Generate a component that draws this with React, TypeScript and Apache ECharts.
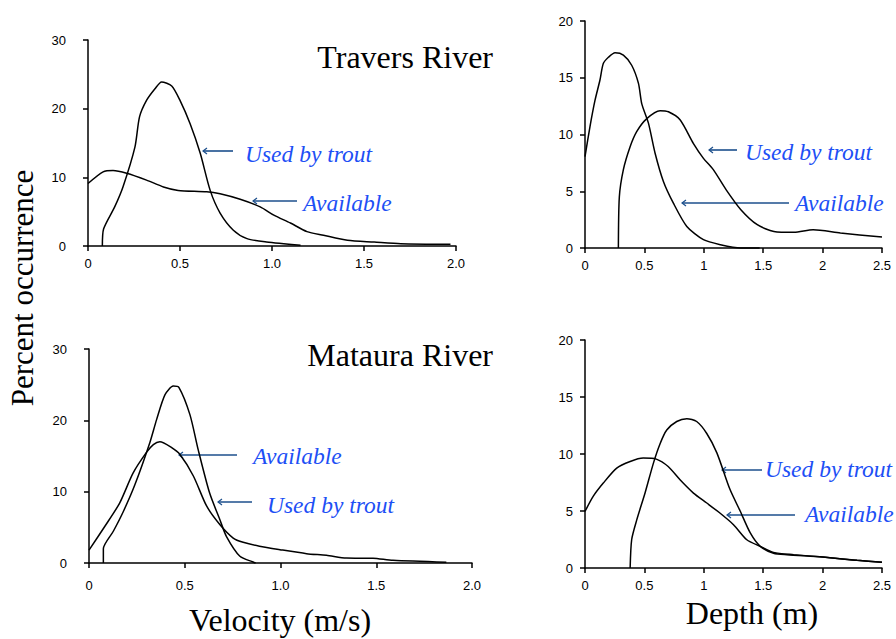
import React, { useEffect, useRef } from "react";
import * as echarts from "echarts";

// ---- Data ----
const velTickLabels = ["0", "0.5", "1.0", "1.5", "2.0"];
const depthTickLabels = ["0", "0.5", "1", "1.5", "2", "2.5"];

// Travers River - velocity
const travVelUsedX = [0.078, 0.085, 0.145, 0.19, 0.255, 0.28, 0.318, 0.364, 0.4, 0.455, 0.5, 0.555, 0.61, 0.664, 0.718, 0.79, 0.864, 0.97, 1.155];
const travVelUsedY = [0, 2.5, 5.7, 8.6, 14.4, 18.8, 21.2, 22.9, 23.9, 23.3, 21.2, 17.8, 13.5, 8.1, 4.8, 2.3, 1.07, 0.58, 0.1];
const travVelAvailX = [0, 0.082, 0.136, 0.21, 0.318, 0.41, 0.49, 0.645, 0.718, 0.827, 0.936, 1.01, 1.1, 1.19, 1.28, 1.41, 1.555, 1.7, 1.97];
const travVelAvailY = [9.1, 10.8, 11.0, 10.6, 9.6, 8.6, 8.1, 7.9, 7.6, 6.8, 5.7, 4.5, 3.35, 2.1, 1.56, 0.83, 0.58, 0.34, 0.24];

// Travers River - depth
const travDepAvailX = [0, 0.042, 0.084, 0.126, 0.154, 0.197, 0.253, 0.323, 0.393, 0.45, 0.478, 0.534, 0.59, 0.66, 0.744, 0.857, 0.997, 1.14, 1.31, 1.47];
const travDepAvailY = [8.05, 10.7, 13.0, 14.8, 16.25, 16.8, 17.2, 17.0, 16.1, 14.5, 12.7, 11.0, 8.35, 5.86, 3.95, 1.9, 0.73, 0.29, 0, 0];
const travDepUsedX = [0.281, 0.289, 0.323, 0.379, 0.435, 0.52, 0.632, 0.702, 0.8, 0.913, 0.997, 1.08, 1.19, 1.31, 1.45, 1.59, 1.76, 1.92, 2.15, 2.5];
const travDepUsedY = [0, 4.5, 6.9, 8.9, 10.25, 11.4, 12.1, 12.0, 11.3, 9.2, 7.9, 6.9, 5.1, 3.4, 2.05, 1.46, 1.38, 1.6, 1.32, 0.97];

// Mataura River - velocity
const matVelAvailX = [0, 0.083, 0.16, 0.23, 0.3, 0.336, 0.37, 0.43, 0.475, 0.545, 0.614, 0.683, 0.753, 0.805, 0.89, 0.997, 1.136, 1.24, 1.344, 1.483, 1.587, 1.866];
const matVelAvailY = [1.8, 5.15, 8.4, 12.6, 15.5, 16.6, 17.0, 16.2, 15.2, 12.2, 8.0, 5.4, 3.5, 2.9, 2.35, 1.87, 1.31, 1.08, 0.7, 0.66, 0.37, 0.1];
const matVelUsedX = [0.075, 0.075, 0.127, 0.18, 0.24, 0.318, 0.353, 0.397, 0.44, 0.47, 0.527, 0.57, 0.63, 0.683, 0.718, 0.788, 0.857, 0.87];
const matVelUsedY = [0, 2.0, 4.45, 7.26, 11.0, 16.9, 20.1, 23.6, 24.8, 24.6, 20.8, 15.9, 9.8, 6.1, 3.7, 0.94, 0.14, 0];

// Mataura River - depth
const matDepUsedX = [0.38, 0.393, 0.435, 0.506, 0.576, 0.632, 0.688, 0.772, 0.857, 0.94, 1.025, 1.11, 1.22, 1.306, 1.39, 1.475, 1.587, 1.7, 2.0, 2.29, 2.5];
const matDepUsedY = [0, 2.5, 4.2, 6.6, 9.2, 10.9, 12.1, 12.85, 13.1, 12.85, 11.8, 10.1, 6.9, 5.0, 3.1, 1.9, 1.3, 1.17, 0.96, 0.67, 0.5];
const matDepAvailX = [0, 0.07, 0.154, 0.267, 0.38, 0.49, 0.6, 0.7, 0.8, 0.913, 1.025, 1.138, 1.25, 1.362, 1.475, 1.587, 1.756, 2.0, 2.29, 2.5];
const matDepAvailY = [4.96, 6.3, 7.45, 8.76, 9.34, 9.64, 9.55, 8.9, 7.74, 6.57, 5.7, 4.8, 3.8, 2.48, 1.9, 1.37, 1.17, 0.96, 0.67, 0.5];

const zip = (xs: number[], ys: number[]) => xs.map((x, i) => [x, ys[i]]);

const TEXT_BLUE = "#1d4ff5";
const ARROW_BLUE = "#1c4f8c";
const SERIF = "Liberation Serif";
const SANS = "Liberation Sans";

function arrow(x1: number, x2: number, y: number) {
  return {
    type: "group",
    children: [
      { type: "line", shape: { x1, y1: y, x2, y2: y }, style: { stroke: ARROW_BLUE, lineWidth: 1.6 } },
      {
        type: "polyline",
        shape: { points: [[x2 + 4, y - 3], [x2, y], [x2 + 4, y + 3]] },
        style: { stroke: ARROW_BLUE, lineWidth: 1.2, fill: "none" },
      },
    ],
  };
}

function label(text: string, x: number, y: number, size = 23.5, italic = true, color = TEXT_BLUE, align = "left") {
  return {
    type: "text",
    x,
    y,
    style: {
      text,
      fontSize: size,
      fontFamily: SERIF,
      fontStyle: italic ? "italic" : "normal",
      fill: color,
      textAlign: align,
      textVerticalAlign: "middle",
    },
  };
}

export default function App() {
  const ref = useRef<HTMLDivElement>(null);
  useEffect(() => {
    if (!ref.current) return;
    const chart = echarts.init(ref.current, undefined, { renderer: "svg" });

    const grids = [
      { left: 88, top: 40, width: 368, height: 206 },
      { left: 585, top: 21, width: 297, height: 227 },
      { left: 89, top: 349, width: 383, height: 214 },
      { left: 585, top: 340, width: 297, height: 228 },
    ];

    const axisLine = { show: true, lineStyle: { color: "#000", width: 1.5 } };
    const axisTick = { show: true, length: 5, lineStyle: { color: "#000", width: 1.5 } };

    const mkX = (gi: number, isVel: boolean, margin: number) => ({
      type: "value",
      gridIndex: gi,
      min: 0,
      max: isVel ? 2 : 2.5,
      interval: 0.5,
      splitLine: { show: false },
      axisLine: { ...axisLine, onZero: false },
      axisTick,
      axisLabel: {
        color: "#000",
        fontSize: 13,
        fontFamily: SANS,
        margin,
        formatter: (v: number) => {
          const idx = Math.round(v / 0.5);
          return (isVel ? velTickLabels : depthTickLabels)[idx] ?? "";
        },
      },
    });
    const mkY = (gi: number, max: number, interval: number, margin: number) => ({
      type: "value",
      gridIndex: gi,
      min: 0,
      max,
      interval,
      splitLine: { show: false },
      axisLine,
      axisTick,
      axisLabel: { color: "#000", fontSize: 13, fontFamily: SANS, margin },
    });

    const lineSeries = (gi: number, name: string, data: number[][]) => ({
      type: "line",
      name,
      xAxisIndex: gi,
      yAxisIndex: gi,
      data,
      showSymbol: false,
      symbol: "none",
      smooth: 0.25,
      lineStyle: { color: "#000", width: 1.5 },
      clip: false,
    });

    chart.setOption({
      animation: false,
      backgroundColor: "#fff",
      grid: grids,
      xAxis: [mkX(0, true, 11), mkX(1, false, 11), mkX(2, true, 16), mkX(3, false, 11)],
      yAxis: [mkY(0, 30, 10, 22), mkY(1, 20, 5, 12), mkY(2, 30, 10, 22), mkY(3, 20, 5, 12)],
      series: [
        lineSeries(0, "Used by trout", zip(travVelUsedX, travVelUsedY)),
        lineSeries(0, "Available", zip(travVelAvailX, travVelAvailY)),
        lineSeries(1, "Available", zip(travDepAvailX, travDepAvailY)),
        lineSeries(1, "Used by trout", zip(travDepUsedX, travDepUsedY)),
        lineSeries(2, "Available", zip(matVelAvailX, matVelAvailY)),
        lineSeries(2, "Used by trout", zip(matVelUsedX, matVelUsedY)),
        lineSeries(3, "Used by trout", zip(matDepUsedX, matDepUsedY)),
        lineSeries(3, "Available", zip(matDepAvailX, matDepAvailY)),
      ],
      graphic: [
        label("Travers River", 493, 57, 32, false, "#000", "right"),
        label("Mataura River", 493, 355, 32, false, "#000", "right"),
        label("Velocity (m/s)", 280, 620, 32, false, "#000", "center"),
        label("Depth (m)", 752, 613, 32, false, "#000", "center"),
        { ...label("Percent occurrence", 22, 288, 31, false, "#000", "center"), rotation: Math.PI / 2 },
        // Panel 1
        label("Used by trout", 245, 154),
        arrow(233, 203, 151),
        label("Available", 303, 203),
        arrow(297, 253, 201),
        // Panel 2
        label("Used by trout", 745, 152),
        arrow(737, 709, 150),
        label("Available", 795, 203),
        arrow(789, 682, 203),
        // Panel 3
        label("Available", 253, 456),
        arrow(237, 179, 455),
        label("Used by trout", 267, 505),
        arrow(252, 218, 502),
        // Panel 4
        label("Used by trout", 765, 469),
        arrow(762, 722, 470),
        label("Available", 805, 514),
        arrow(795, 727, 515),
      ],
    });
    return () => chart.dispose();
  }, []);
  return (
    <div
      ref={ref}
      style={{ position: "fixed", left: 0, top: 0, width: 896, height: 639, background: "#fff" }}
    />
  );
}
